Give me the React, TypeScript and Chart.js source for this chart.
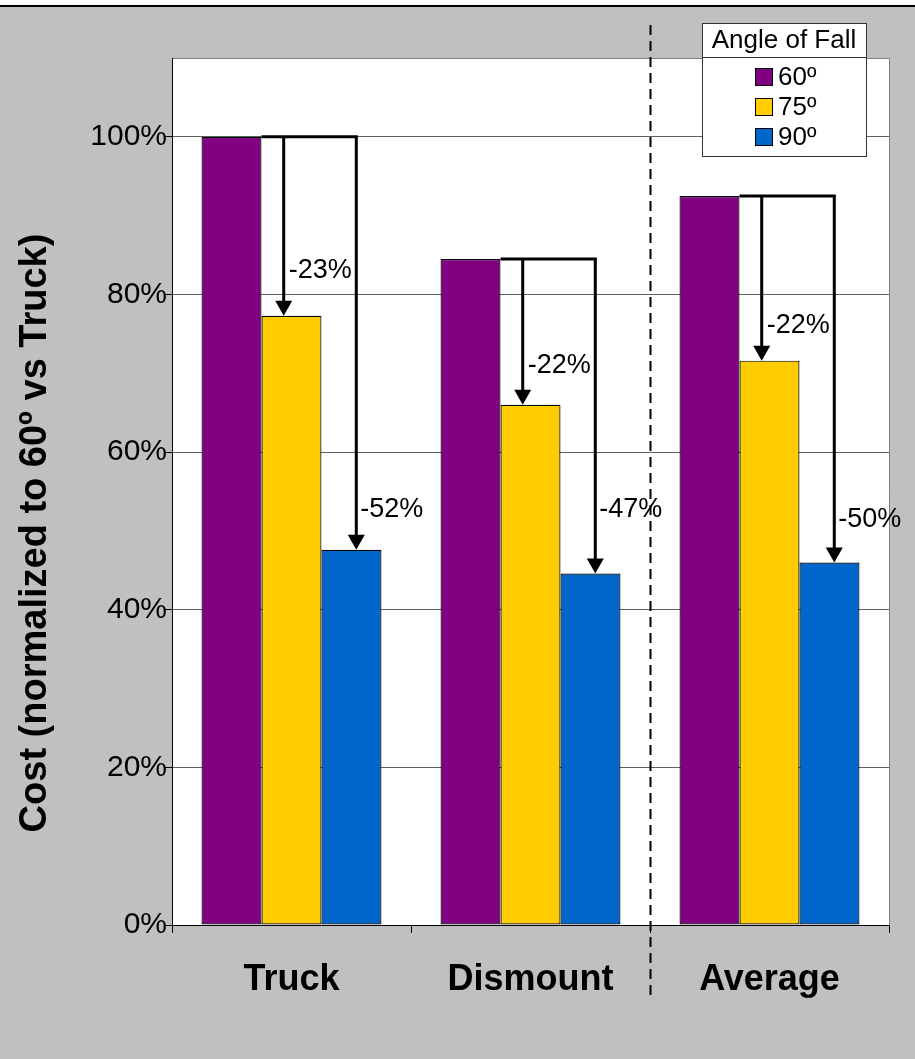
import React, { useEffect, useRef } from 'react';
import { Chart, registerables } from 'chart.js';

Chart.register(...registerables);

const categories = ['Truck', 'Dismount', 'Average'];
const seriesLabels = ['60º', '75º', '90º'];
const angle60 = [100, 84.5, 92.5];
const angle75 = [77.3, 66.0, 71.6];
const angle90 = [47.6, 44.6, 46.0];
const dropTo75 = ['-23%', '-22%', '-22%'];
const dropTo90 = ['-52%', '-47%', '-50%'];
const dropTo75LabelAt = [83, 71, 76];
const dropTo90LabelAt = [52.7, 52.7, 51.4];
const legendTitle = 'Angle of Fall';
const yTitle = 'Cost (normalized to 60º vs Truck)';
const seriesColors = ['#800080', '#FFCC00', '#0066CC'];

const FONT = '"Liberation Sans", Arial, Helvetica, sans-serif';

function drawArrow(ctx: CanvasRenderingContext2D, x: number, y1: number, y2: number) {
  ctx.beginPath();
  ctx.moveTo(x, y1);
  ctx.lineTo(x, y2 - 12);
  ctx.stroke();
  ctx.beginPath();
  ctx.moveTo(x - 8.5, y2 - 15);
  ctx.lineTo(x + 8.5, y2 - 15);
  ctx.lineTo(x, y2);
  ctx.closePath();
  ctx.fill();
}

const decorPlugin = {
  id: 'decor',
  beforeDraw(chart: any) {
    const { ctx, width, height, chartArea: a } = chart;
    ctx.save();
    ctx.fillStyle = '#ffffff';
    ctx.fillRect(0, 0, width, height);
    ctx.fillStyle = '#C0C0C0';
    ctx.fillRect(0, 7, width, height - 7);
    ctx.fillStyle = '#000000';
    ctx.fillRect(0, 5, width, 2);
    ctx.fillStyle = '#ffffff';
    ctx.fillRect(a.left, a.top, a.right - a.left, a.bottom - a.top);
    ctx.strokeStyle = '#808080';
    ctx.lineWidth = 1;
    ctx.beginPath();
    ctx.moveTo(a.left, a.top + 0.5);
    ctx.lineTo(a.right + 0.5, a.top + 0.5);
    ctx.lineTo(a.right + 0.5, a.bottom);
    ctx.stroke();
    ctx.restore();
  },
  afterDatasetsDraw(chart: any) {
    const { ctx } = chart;
    const yScale = chart.scales.y;
    const m0 = chart.getDatasetMeta(0).data;
    const m1 = chart.getDatasetMeta(1).data;
    const m2 = chart.getDatasetMeta(2).data;
    ctx.save();
    ctx.strokeStyle = '#000';
    ctx.fillStyle = '#000';
    ctx.lineWidth = 3;
    ctx.font = `27px ${FONT}`;
    ctx.textBaseline = 'middle';
    ctx.textAlign = 'left';
    for (let i = 0; i < categories.length; i++) {
      const p = m0[i], yb = m1[i], bb = m2[i];
      const y0 = yScale.getPixelForValue(angle60[i]);
      const xY = yb.x - yb.width * 0.13;
      const xB = bb.x + bb.width * 0.08;
      ctx.beginPath();
      ctx.moveTo(p.x + p.width / 2, y0);
      ctx.lineTo(xB + 1.5, y0);
      ctx.stroke();
      ctx.fillStyle = '#000';
      drawArrow(ctx, xY, y0, yScale.getPixelForValue(angle75[i]));
      drawArrow(ctx, xB, y0, yScale.getPixelForValue(angle90[i]));
      ctx.fillText(dropTo75[i], xY + 5, yScale.getPixelForValue(dropTo75LabelAt[i]));
      ctx.fillText(dropTo90[i], xB + 4, yScale.getPixelForValue(dropTo90LabelAt[i]));
    }
    ctx.restore();
  },
  afterDraw(chart: any) {
    const { ctx } = chart;
    const xScale = chart.scales.x;
    ctx.save();
    // dashed separator between Dismount and Average
    const dx = Math.round(xScale.getPixelForValue(1.5)) + 0.5;
    ctx.strokeStyle = '#000';
    ctx.lineWidth = 2;
    ctx.setLineDash([10, 6]);
    ctx.beginPath();
    ctx.moveTo(dx, 25);
    ctx.lineTo(dx, 1000);
    ctx.stroke();
    ctx.setLineDash([]);

    // legend
    const lx = 702, ly = 23, lw = 164, th = 34, lh = 133;
    ctx.fillStyle = '#fff';
    ctx.fillRect(lx, ly, lw, lh);
    ctx.strokeStyle = '#333';
    ctx.lineWidth = 1;
    ctx.strokeRect(lx + 0.5, ly + 0.5, lw, lh);
    ctx.beginPath();
    ctx.moveTo(lx, ly + th + 0.5);
    ctx.lineTo(lx + lw, ly + th + 0.5);
    ctx.stroke();
    ctx.fillStyle = '#000';
    ctx.font = `26px ${FONT}`;
    ctx.textAlign = 'center';
    ctx.textBaseline = 'middle';
    ctx.fillText(legendTitle, lx + lw / 2, ly + th / 2 + 1);
    ctx.textAlign = 'left';
    for (let i = 0; i < seriesLabels.length; i++) {
      const cy = ly + 54 + i * 30;
      ctx.fillStyle = seriesColors[i];
      ctx.fillRect(755, cy - 9, 18, 18);
      ctx.strokeStyle = '#000';
      ctx.strokeRect(755.5, cy - 8.5, 17, 17);
      ctx.fillStyle = '#000';
      ctx.fillText(seriesLabels[i], 778, cy + 1);
    }

    // y axis title
    ctx.translate(46, 533);
    ctx.rotate(-Math.PI / 2);
    ctx.font = `bold 38px ${FONT}`;
    ctx.textAlign = 'center';
    ctx.textBaseline = 'alphabetic';
    ctx.fillText(yTitle, 0, 0);
    ctx.restore();
  },
};

export default function App() {
  const ref = useRef<HTMLCanvasElement>(null);
  useEffect(() => {
    if (!ref.current) return;
    const chart = new Chart(ref.current, {
      type: 'bar',
      data: {
        labels: categories,
        datasets: [angle60, angle75, angle90].map((d, i) => ({
          label: seriesLabels[i],
          data: d,
          backgroundColor: seriesColors[i],
          borderColor: '#000',
          borderWidth: 1.2,
          borderSkipped: false,
          categoryPercentage: 0.753,
          barPercentage: 1,
        })),
      },
      options: {
        responsive: false,
        animation: false,
        devicePixelRatio: 1,
        layout: { padding: { top: 58, right: 26, left: 0, bottom: 0 } },
        plugins: { legend: { display: false }, tooltip: { enabled: false }, title: { display: false } },
        scales: {
          x: {
            offset: true,
            grid: { display: true, drawOnChartArea: false, drawTicks: true, tickLength: 8, color: '#000', offset: true },
            border: { display: true, color: '#000', width: 1 },
            ticks: { color: '#000', font: { family: FONT, size: 36, weight: 'bold' }, padding: 25, maxRotation: 0 },
            afterFit: (s: any) => { s.height = 134; },
          },
          y: {
            min: 0,
            max: 110,
            grid: {
              color: (c: any) => (c.tick && c.tick.value > 100 ? 'rgba(0,0,0,0)' : '#606060'),
              lineWidth: 1,
              tickLength: 8,
              tickColor: (c: any) => (c.tick && c.tick.value > 100 ? 'rgba(0,0,0,0)' : '#000'),
            },
            border: { display: true, color: '#000', width: 1 },
            ticks: {
              stepSize: 20,
              color: '#000',
              font: { family: FONT, size: 30 },
              padding: -3,
              callback: (v: any) => (v > 100 ? '' : v + '%'),
            },
            afterFit: (s: any) => { s.width = 172; },
          },
        },
      },
      plugins: [decorPlugin],
    });
    return () => chart.destroy();
  }, []);
  return (
    <div style={{ position: 'absolute', left: 0, top: 0, width: 915, height: 1059 }}>
      <canvas ref={ref} width={915} height={1059} style={{ display: 'block' }} />
    </div>
  );
}
